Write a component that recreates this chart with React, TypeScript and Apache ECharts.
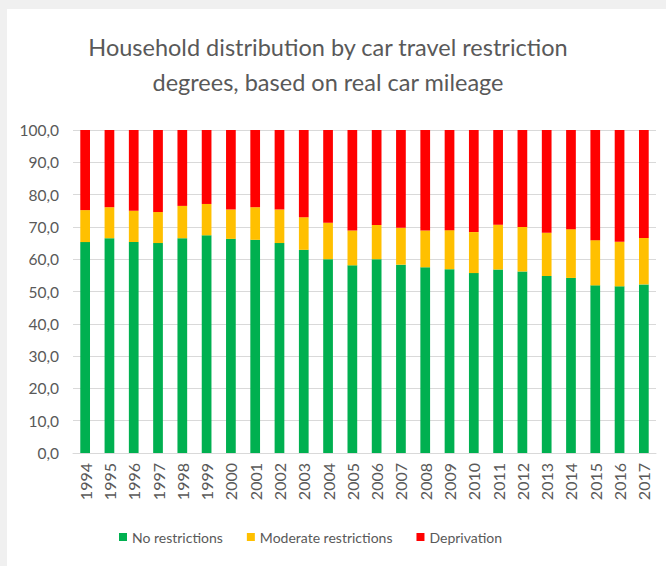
import React, { useEffect, useRef } from "react";
import * as echarts from "echarts";

const years = ["1994","1995","1996","1997","1998","1999","2000","2001","2002","2003","2004","2005","2006","2007","2008","2009","2010","2011","2012","2013","2014","2015","2016","2017"];
const noRestrictions = [65.3, 66.5, 65.3, 65.0, 66.5, 67.4, 66.3, 66.0, 65.0, 62.9, 60.0, 58.1, 60.0, 58.3, 57.5, 56.9, 55.7, 56.8, 56.2, 54.8, 54.2, 51.9, 51.6, 52.2];
const moderate = [9.9, 9.6, 9.7, 9.6, 10.0, 9.7, 9.1, 10.1, 10.4, 10.1, 11.3, 10.8, 10.6, 11.4, 11.4, 12.1, 12.7, 13.9, 13.8, 13.4, 15.1, 14.0, 13.8, 14.4];
const deprivation = [24.8, 23.9, 25.0, 25.4, 23.5, 22.9, 24.6, 23.9, 24.6, 27.0, 28.7, 31.1, 29.4, 30.3, 31.1, 31.0, 31.6, 29.3, 30.0, 31.8, 30.7, 34.1, 34.6, 33.4];
const seriesNames = ["No restrictions", "Moderate restrictions", "Deprivation"];
const colors = ["#00b050", "#ffc000", "#ff0000"];

const FONT = "Lato, 'Open Sans', sans-serif";

export default function App() {
  const ref = useRef<HTMLDivElement>(null);
  useEffect(() => {
    if (!ref.current) return;
    const chart = echarts.init(ref.current, null, { renderer: "svg" });
    const mk = (name: string, data: number[], color: string) => ({
      name,
      type: "bar",
      stack: "total",
      data,
      barWidth: "40%",
      itemStyle: { color },
    });
    chart.setOption({
      animation: false,
      backgroundColor: "#ffffff",
      textStyle: { fontFamily: FONT },
      title: {
        text: "Household distribution by car travel restriction\ndegrees, based on real car mileage",
        left: 316,
        top: 15,
        textAlign: "center",
        textStyle: { fontFamily: FONT, fontSize: 23.5, fontWeight: "normal", color: "#595959", lineHeight: 35 },
      },
      legend: {
        bottom: 22,
        left: 112,
        padding: 0,
        itemWidth: 8,
        itemHeight: 8,
        itemGap: 24,
        icon: "rect",
        textStyle: { fontFamily: FONT, fontSize: 14, color: "#595959" },
        data: seriesNames,
      },
      grid: { left: 66, right: 10, top: 121, bottom: 113, containLabel: false },
      xAxis: {
        type: "category",
        data: years,
        axisTick: { show: false },
        axisLine: { lineStyle: { color: "#d9d9d9" } },
        axisLabel: { rotate: 90, fontFamily: FONT, fontSize: 16, color: "#595959", margin: 10 },
      },
      yAxis: {
        type: "value",
        min: 0,
        max: 100,
        interval: 10,
        axisLine: { show: false },
        axisTick: { show: false },
        splitLine: { lineStyle: { color: "#d9d9d9" } },
        axisLabel: {
          fontFamily: FONT,
          fontSize: 15.5,
          color: "#595959",
          margin: 14,
          formatter: (v: number) => v.toFixed(1).replace(".", ","),
        },
      },
      series: [
        mk(seriesNames[0], noRestrictions, colors[0]),
        mk(seriesNames[1], moderate, colors[1]),
        mk(seriesNames[2], deprivation, colors[2]),
      ],
    });
    return () => chart.dispose();
  }, []);
  return (
    <div style={{ position: "fixed", left: 0, top: 0, width: 666, height: 566, background: "#f0f0f0" }}>
      <div ref={ref} style={{ position: "absolute", left: 7, top: 9, width: 659, height: 557 }} />
    </div>
  );
}
